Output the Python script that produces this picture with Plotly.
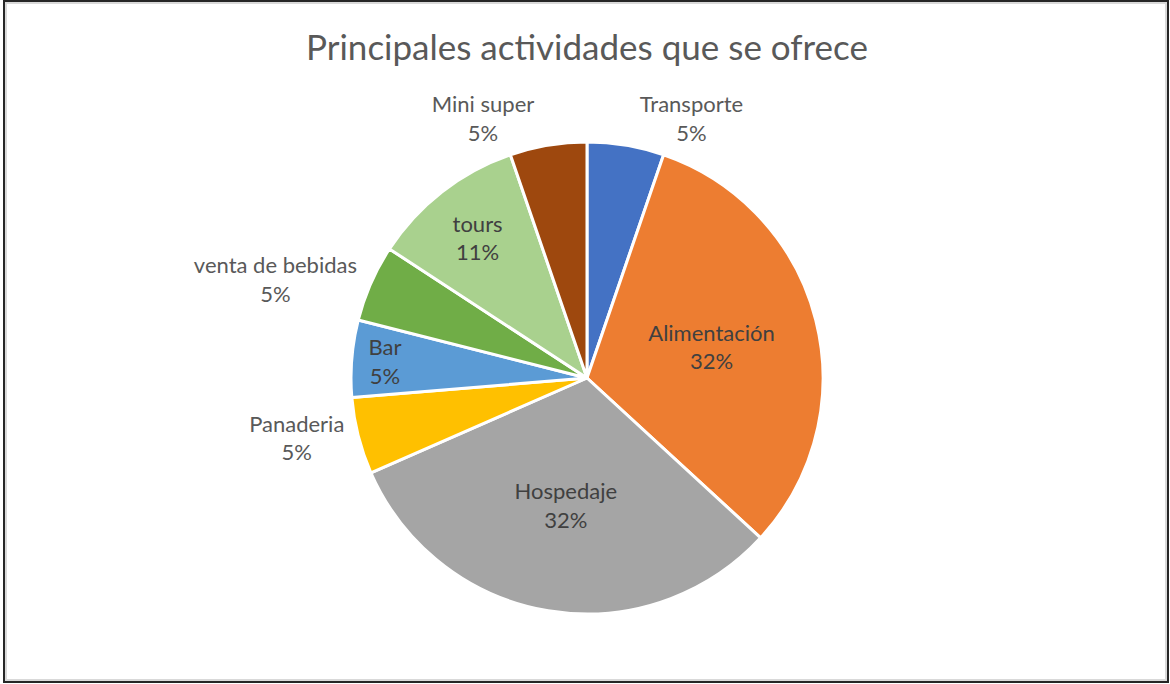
import plotly.graph_objects as go

labels = ["Transporte", "Alimentación", "Hospedaje", "Panaderia", "Bar",
          "venta de bebidas", "tours", "Mini super"]
values = [1, 6, 6, 1, 1, 1, 2, 1]
colors = ["#4472C4", "#ED7D31", "#A5A5A5", "#FFC000", "#5B9BD5",
          "#70AD47", "#A9D18E", "#9E480E"]
positions = ["outside", "inside", "inside", "outside", "inside",
             "outside", "inside", "outside"]

W, H = 1170, 684
cx, cy, r = 587, 378, 236
FONT = "Lato"

fig = go.Figure(go.Pie(
    labels=labels,
    values=values,
    sort=False,
    direction="clockwise",
    rotation=0,
    marker=dict(colors=colors, line=dict(color="white", width=3)),
    texttemplate="%{label}<br>%{percent:.0%}",
    textposition=positions,
    insidetextorientation="horizontal",
    outsidetextfont=dict(family=FONT, size=22, color="#595959"),
    insidetextfont=dict(family=FONT, size=22, color="#404040"),
    showlegend=False,
    hoverinfo="label+percent",
    domain=dict(x=[(cx - r) / W, (cx + r) / W],
                y=[(H - cy - r) / H, (H - cy + r) / H]),
))

fig.update_layout(
    width=W, height=H,
    margin=dict(l=0, r=0, t=0, b=0),
    paper_bgcolor="white",
    plot_bgcolor="white",
    title=dict(text="Principales actividades que se ofrece",
               x=0.5017, xanchor="center", y=1 - 48 / H, yanchor="middle",
               font=dict(family=FONT, size=35, color="#595959")),
    shapes=[
        dict(type="rect", xref="paper", yref="paper",
             x0=6 / W, x1=1166 / W, y0=1 - 680 / H, y1=1 - 3 / H,
             line=dict(color="#D9D9D9", width=2), fillcolor="rgba(0,0,0,0)"),
        dict(type="rect", xref="paper", yref="paper",
             x0=4 / W, x1=1168 / W, y0=1 - 682 / H, y1=1 - 1 / H,
             line=dict(color="#262626", width=2), fillcolor="rgba(0,0,0,0)"),
    ],
)

fig.write_html("out.html", config={"displayModeBar": False},
               post_script="document.body.style.margin='0';")
